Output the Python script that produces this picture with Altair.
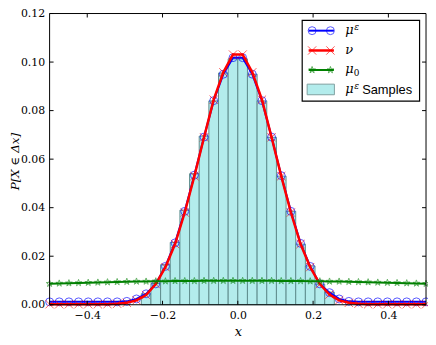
import altair as alt
import pandas as pd

# grid of the discrete measures
x_grid = [-0.5, -0.4744, -0.4487, -0.4231, -0.3974, -0.3718, -0.3462, -0.3205, -0.2949, -0.2692,
          -0.2436, -0.2179, -0.1923, -0.1667, -0.1410, -0.1154, -0.0897, -0.0641, -0.0385, -0.0128,
          0.0128, 0.0385, 0.0641, 0.0897, 0.1154, 0.1410, 0.1667, 0.1923, 0.2179, 0.2436,
          0.2692, 0.2949, 0.3205, 0.3462, 0.3718, 0.3974, 0.4231, 0.4487, 0.4744, 0.5]
mu_eps = [0.0012, 0.0012, 0.0012, 0.0012, 0.0012, 0.0012, 0.0012, 0.0012, 0.0014, 0.0024,
          0.0045, 0.0086, 0.0158, 0.0255, 0.0385, 0.0534, 0.0691, 0.0841, 0.0950, 0.1018,
          0.1018, 0.0950, 0.0841, 0.0691, 0.0532, 0.0385, 0.0253, 0.0158, 0.0086, 0.0050,
          0.0024, 0.0014, 0.0012, 0.0012, 0.0012, 0.0012, 0.0012, 0.0012, 0.0012, 0.0012]
nu = [0.0002, 0.0002, 0.0002, 0.0002, 0.0002, 0.0002, 0.0002, 0.0004, 0.0008, 0.0018,
      0.0040, 0.0085, 0.0155, 0.0250, 0.0380, 0.0530, 0.0690, 0.0845, 0.0958, 0.1031,
      0.1031, 0.0958, 0.0845, 0.0690, 0.0530, 0.0380, 0.0250, 0.0155, 0.0085, 0.0042,
      0.0018, 0.0008, 0.0004, 0.0002, 0.0002, 0.0002, 0.0002, 0.0002, 0.0002, 0.0002]
mu0 = [0.0087, 0.0088, 0.0089, 0.0090, 0.0091, 0.0092, 0.0093, 0.0094, 0.0095, 0.0096,
       0.0096, 0.0097, 0.0097, 0.0098, 0.0098, 0.0098, 0.0099, 0.0099, 0.0099, 0.0099,
       0.0099, 0.0099, 0.0099, 0.0099, 0.0098, 0.0098, 0.0098, 0.0097, 0.0097, 0.0096,
       0.0096, 0.0095, 0.0094, 0.0093, 0.0092, 0.0091, 0.0090, 0.0089, 0.0088, 0.0087]

# histogram of samples
bin_edges = [-0.2564, -0.2308, -0.2051, -0.1795, -0.1538, -0.1282, -0.1026, -0.0769, -0.0513, -0.0256,
             0.0, 0.0256, 0.0513, 0.0769, 0.1026, 0.1282, 0.1538, 0.1795, 0.2051, 0.2308, 0.2564]
sample_heights = [0.0045, 0.0088, 0.0165, 0.0257, 0.0390, 0.0540, 0.0695, 0.0840, 0.0955, 0.1013,
                  0.1013, 0.0950, 0.0840, 0.0690, 0.0530, 0.0385, 0.0250, 0.0160, 0.0085, 0.0052]

x_ticks = [-0.4, -0.2, 0.0, 0.2, 0.4]
y_ticks = [0.0, 0.02, 0.04, 0.06, 0.08, 0.10, 0.12]

W, H = 380, 294
SERIF = "DejaVu Serif"

df = pd.DataFrame({"x": x_grid, "mu_eps": mu_eps, "nu": nu, "mu0": mu0})
hist = pd.DataFrame({"lo": bin_edges[:-1], "hi": bin_edges[1:], "h": sample_heights})

xs = alt.Scale(domain=[-0.5, 0.5], nice=False, zero=False)
ys = alt.Scale(domain=[0, 0.12], nice=False)

x_axis = alt.Axis(values=x_ticks, format=".1f", title="x", ticks=False, domain=False, grid=False,
                  labelFont=SERIF, labelFontSize=11, labelColor="black", labelPadding=5,
                  titleFont=SERIF, titleFontSize=13, titleFontStyle="italic", titleFontWeight="normal",
                  titleColor="black", titleX=W / 2, titleY=27, titleBaseline="middle",
                  titleAlign="center")
y_axis = alt.Axis(values=y_ticks, format=".2f", title="P[X ∈ Δx]", ticks=False, domain=False, grid=False,
                  labelFont=SERIF, labelFontSize=11, labelColor="black", labelPadding=5,
                  titleFont=SERIF, titleFontSize=12, titleFontStyle="italic", titleFontWeight="normal",
                  titleColor="black", titleX=-35, titleY=H / 2 + 2, titleAngle=270,
                  titleBaseline="middle", titleAlign="center")


def XQ(f):
    return alt.X(f, scale=xs, axis=x_axis)


def YQ(f):
    return alt.Y(f, scale=ys, axis=y_axis)


bars = alt.Chart(hist).mark_rect(fill="#b3ecec", stroke="#5f8e8e", strokeWidth=1).encode(
    x=XQ("lo:Q"), x2="hi:Q", y=YQ("h:Q"), y2=alt.datum(0))

base = alt.Chart(df).encode(x=XQ("x:Q"))

XPATH = "M-1,-1L1,1M-1,1L1,-1"
STAR = ("M0,-1L0.2245,-0.309L0.951,-0.309L0.363,0.118L0.588,0.809L0,0.382"
        "L-0.588,0.809L-0.363,0.118L-0.951,-0.309L-0.2245,-0.309Z")

blue_line = base.mark_line(color="#0000ff", strokeWidth=2).encode(y=YQ("mu_eps:Q"))
blue_pts = base.mark_point(shape="circle", filled=False, color="#0000ff", size=64, strokeWidth=1,
                           opacity=0.65).encode(y=YQ("mu_eps:Q"))
red_line = base.mark_line(color="#ff0000", strokeWidth=2.5).encode(y=YQ("nu:Q"))
red_pts = base.mark_point(shape=XPATH, filled=False, color="#ff0000", size=70, strokeWidth=1,
                          opacity=0.6).encode(y=YQ("nu:Q"))
green_line = base.mark_line(color="#008000", strokeWidth=2).encode(y=YQ("mu0:Q"))
green_pts = base.mark_point(shape=STAR, filled=False, color="#008000", size=50, strokeWidth=1,
                            opacity=0.6).encode(y=YQ("mu0:Q"))

# inward ticks on all four sides
xt = alt.Chart(pd.DataFrame({"t": x_ticks}))
yt = alt.Chart(pd.DataFrame({"t": y_ticks}))
ticks = [
    xt.mark_rule(color="black").encode(x=XQ("t:Q"), y=alt.value(H - 4), y2=alt.value(H)),
    xt.mark_rule(color="black").encode(x=XQ("t:Q"), y=alt.value(0), y2=alt.value(4)),
    yt.mark_rule(color="black").encode(y=YQ("t:Q"), x=alt.value(0), x2=alt.value(4)),
    yt.mark_rule(color="black").encode(y=YQ("t:Q"), x=alt.value(W - 4), x2=alt.value(W)),
]

one = alt.Data(values=[{"a": 1}])

# plot frame
frame = alt.Chart(one).mark_rect(fill=None, fillOpacity=0, stroke="black", strokeWidth=1).encode(
    x=alt.value(0), x2=alt.value(W), y=alt.value(0), y2=alt.value(H))

# legend
leg = [alt.Chart(one).mark_rect(fill="white", stroke="black", strokeWidth=1.2).encode(
    x=alt.value(255), x2=alt.value(373.5), y=alt.value(7), y2=alt.value(88.5))]
rows = [17.3, 37.3, 57, 76.3]
styles = [("#0000ff", "circle", 64, 2), ("#ff0000", XPATH, 70, 2.5), ("#008000", STAR, 50, 2)]
for (col, shp, sz, lw), ry in zip(styles, rows[:3]):
    leg.append(alt.Chart(one).mark_rule(color=col, strokeWidth=lw).encode(
        x=alt.value(261.5), x2=alt.value(287), y=alt.value(ry)))
    for px in (265, 283.5):
        leg.append(alt.Chart(one).mark_point(shape=shp, filled=False, color=col, size=sz,
                                             strokeWidth=1, opacity=0.65).encode(
            x=alt.value(px), y=alt.value(ry)))
leg.append(alt.Chart(one).mark_rect(fill="#b3ecec", stroke="#7fa0a0", strokeWidth=1).encode(
    x=alt.value(260), x2=alt.value(287.5), y=alt.value(71.3), y2=alt.value(82)))


def txt(s, x, y, size=13, font=SERIF, style="italic"):
    return alt.Chart(one).mark_text(text=s, font=font, fontSize=size, fontStyle=style,
                                    align="left", baseline="alphabetic", color="black").encode(
        x=alt.value(x), y=alt.value(y))


leg += [
    txt("μ", 298.5, rows[0] + 3.5), txt("ε", 307.5, rows[0] - 0.5, size=9),
    txt("ν", 298.5, rows[1] + 3.5),
    txt("μ", 298.5, rows[2] + 3.5), txt("0", 307, rows[2] + 6, size=9, style="normal"),
    txt("μ", 298.5, rows[3] + 3.5), txt("ε", 307.5, rows[3] - 0.5, size=9),
    txt("Samples", 315.5, rows[3] + 4.5, size=13, font="Liberation Sans", style="normal"),
]

chart = alt.layer(bars, blue_line, blue_pts, red_line, red_pts, green_line, green_pts,
                  *ticks, frame, *leg).properties(
    width=W, height=H,
    padding={"left": 42, "top": 4, "right": 2, "bottom": 34},
    autosize=alt.AutoSizeParams(type="none"),
).configure_view(stroke=None)

chart.save("out.html", embed_options={"renderer": "svg", "actions": False})
